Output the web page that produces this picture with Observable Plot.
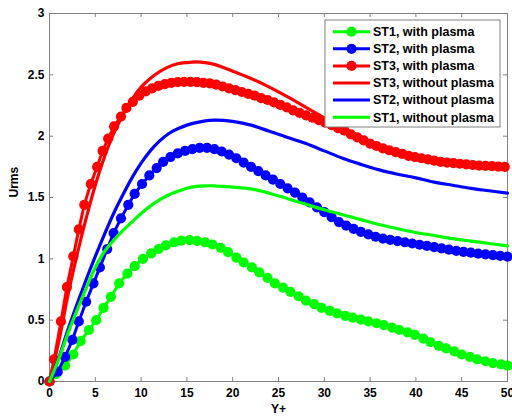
<!DOCTYPE html>
<html><head><meta charset="utf-8">
<script src="https://cdn.jsdelivr.net/npm/d3@7"></script>
<script src="https://cdn.jsdelivr.net/npm/@observablehq/plot@0.6"></script>
<style>body{margin:0;background:#fff}#chart{width:512px;height:419px}</style>
</head><body><div id="chart"></div>
<script>
// ---- data ----
const xTicks = [0,5,10,15,20,25,30,35,40,45,50];
const yTicks = [0,0.5,1,1.5,2,2.5,3];
const xLabel = "Y+";
const yLabel = "Urms";
const seriesNames = ["ST1, with plasma","ST2, with plasma","ST3, with plasma","ST3, without plasma","ST2, without plasma","ST1, without plasma"];
const seriesColors = ["#00ff00","#0000ff","#ff0000","#ff0000","#0000ff","#00ff00"];
const seriesMarkers = [true,true,true,false,false,false];

const st1PlasmaX = [0,0.7,1.7,2.6,3.4,4.3,5.1,5.9,6.7,7.6,8.5,9.3,10.2,11.1,11.9,12.7,13.6,14.4,15.3,16.1,17.0,17.8,18.7,19.5,20.4,21.2,22.1,22.9,23.8,24.6,25.5,26.3,27.2,28.0,28.9,29.7,30.6,31.4,32.3,33.1,34.0,34.8,35.7,36.5,37.4,38.2,39.1,39.9,40.8,41.6,42.5,43.3,44.2,45.0,45.9,46.7,47.6,48.4,49.3,50.0];
const st1PlasmaY = [0,0.06,0.13,0.22,0.33,0.42,0.5,0.6,0.69,0.8,0.88,0.94,1.0,1.045,1.08,1.11,1.135,1.148,1.152,1.147,1.135,1.117,1.09,1.055,1.01,0.97,0.93,0.89,0.845,0.80,0.765,0.73,0.695,0.66,0.63,0.60,0.575,0.555,0.535,0.52,0.505,0.49,0.475,0.46,0.44,0.42,0.40,0.38,0.35,0.32,0.29,0.27,0.245,0.22,0.20,0.18,0.165,0.15,0.14,0.13];

const st2PlasmaX = [0,0.9,1.7,2.5,3.2,4.0,4.8,5.5,6.3,7.0,7.8,8.6,9.3,10.1,10.9,11.7,12.4,13.2,14.0,14.8,15.6,16.4,17.2,18.0,18.8,19.6,20.4,21.2,22.0,22.8,23.6,24.4,25.2,26.0,26.8,27.6,28.4,29.2,30.0,30.8,31.6,32.4,33.2,34.0,34.8,35.6,36.4,37.2,38.0,38.8,39.6,40.4,41.2,42.0,42.8,43.6,44.4,45.2,46.0,46.8,47.6,48.4,49.2,50.0];
const st2PlasmaY = [0,0.08,0.2,0.34,0.49,0.65,0.8,0.93,1.08,1.21,1.33,1.44,1.53,1.61,1.68,1.74,1.79,1.83,1.86,1.88,1.895,1.905,1.905,1.895,1.875,1.85,1.82,1.785,1.75,1.715,1.68,1.645,1.61,1.575,1.54,1.50,1.46,1.42,1.38,1.34,1.30,1.27,1.245,1.22,1.20,1.18,1.165,1.155,1.145,1.135,1.125,1.115,1.105,1.095,1.085,1.075,1.065,1.057,1.05,1.043,1.036,1.03,1.024,1.018];

const st3PlasmaX = [0,0.5,1.25,1.9,2.6,3.2,3.8,4.5,5.2,5.8,6.4,7.05,7.8,8.4,9.1,9.8,10.5,11.2,11.9,12.6,13.3,14.0,14.7,15.4,16.1,16.8,17.5,18.2,18.9,19.6,20.3,21.0,21.7,22.4,23.1,23.8,24.5,25.2,25.9,26.6,27.3,28.0,28.7,29.4,30.1,30.8,31.5,32.2,32.9,33.6,34.3,35.0,35.7,36.4,37.1,37.8,38.5,39.2,39.9,40.6,41.3,42.0,42.7,43.4,44.1,44.8,45.5,46.2,46.9,47.6,48.3,49.0,49.7];
const st3PlasmaY = [0,0.18,0.49,0.77,1.02,1.24,1.44,1.61,1.75,1.88,1.98,2.08,2.16,2.23,2.28,2.33,2.365,2.39,2.41,2.425,2.435,2.44,2.442,2.442,2.44,2.435,2.43,2.42,2.405,2.39,2.375,2.36,2.345,2.33,2.31,2.295,2.275,2.255,2.235,2.21,2.19,2.17,2.15,2.13,2.11,2.09,2.065,2.045,2.015,1.99,1.965,1.94,1.92,1.90,1.885,1.87,1.855,1.84,1.83,1.82,1.81,1.80,1.79,1.785,1.78,1.775,1.77,1.765,1.76,1.757,1.755,1.752,1.75];

const solidX = [0,1,2,3,4,5,6,7,8,9,10,11,12,13,14,15,16,17,18,19,20,22,24,26,28,30,32,34,36,38,40,42,44,46,48,50];
const st3NoPlasmaY = [0,0.32,0.70,1.03,1.33,1.60,1.83,2.02,2.17,2.30,2.40,2.47,2.525,2.565,2.59,2.60,2.605,2.60,2.585,2.56,2.53,2.47,2.40,2.32,2.235,2.15,2.07,1.99,1.925,1.875,1.835,1.805,1.785,1.77,1.76,1.75];
const st2NoPlasmaY = [0,0.19,0.42,0.63,0.83,1.02,1.2,1.37,1.52,1.66,1.78,1.88,1.96,2.02,2.06,2.09,2.11,2.125,2.13,2.128,2.12,2.09,2.04,1.99,1.94,1.88,1.82,1.77,1.725,1.69,1.66,1.625,1.60,1.575,1.555,1.535];
const st1NoPlasmaY = [0,0.18,0.39,0.58,0.76,0.93,1.06,1.15,1.23,1.30,1.37,1.43,1.48,1.52,1.55,1.575,1.59,1.595,1.595,1.59,1.585,1.57,1.535,1.49,1.445,1.40,1.36,1.32,1.28,1.245,1.215,1.19,1.165,1.145,1.125,1.105];

// ---- build ----
const rows = (xs, ys) => xs.map((x, i) => ({x, y: ys[i]}));
const series = [
  rows(st1PlasmaX, st1PlasmaY),
  rows(st2PlasmaX, st2PlasmaY),
  rows(st3PlasmaX, st3PlasmaY),
  rows(solidX, st3NoPlasmaY),
  rows(solidX, st2NoPlasmaY),
  rows(solidX, st1NoPlasmaY)
];

const W = 512, H = 419, ML = 49, MR = 5, MT = 13, MB = 38;
const FW = W - ML - MR, FH = H - MT - MB;
const axisColor = "#808080";
const font = "'Liberation Sans', Arial, sans-serif";
const dotR = 5.1;

const marks = [];
series.forEach((d, i) => {
  const c = seriesColors[i];
  if (seriesMarkers[i]) {
    marks.push(Plot.line(d, {x: "x", y: "y", stroke: c, strokeWidth: 3}));
    marks.push(Plot.dot(d, {x: "x", y: "y", r: dotR, fill: c, stroke: "none"}));
  } else {
    marks.push(Plot.line(d, {x: "x", y: "y", stroke: c, strokeWidth: 3.2, curve: "catmull-rom"}));
  }
});

const chart = Plot.plot({
  width: W, height: H,
  marginLeft: ML, marginRight: MR, marginTop: MT, marginBottom: MB,
  style: {fontFamily: font, fontSize: "12px", fontWeight: "bold", background: "#fff", color: "#000", overflow: "visible"},
  x: {domain: [0, 50]},
  y: {domain: [0, 3]},
  marks: [
    Plot.frame({stroke: axisColor, strokeWidth: 1}),
    Plot.tickX(xTicks, {x: d => d, stroke: axisColor, insetTop: FH - 4}),
    Plot.tickX(xTicks, {x: d => d, stroke: axisColor, insetBottom: FH - 4}),
    Plot.tickY(yTicks, {y: d => d, stroke: axisColor, insetRight: FW - 4}),
    Plot.tickY(yTicks, {y: d => d, stroke: axisColor, insetLeft: FW - 4}),
    Plot.axisX(xTicks, {tickSize: 0, tickPadding: 7, label: null, fill: "#000"}),
    Plot.axisY(yTicks, {tickSize: 0, tickPadding: 5, label: null, fill: "#000", tickFormat: d => String(d)}),
    Plot.text([xLabel], {frameAnchor: "bottom", dy: 31, text: d => d, fill: "#000", fontSize: 12, fontWeight: "bold"}),
    Plot.text([yLabel], {frameAnchor: "left", dx: -35, rotate: -90, text: d => d, fill: "#000", fontSize: 12, fontWeight: "bold"}),
    ...marks
  ]
});

// legend (inside axes, upper right)
const svg = d3.select(chart);
const lx = 325, ly = 20, lw = 175, lh = 107, rowH = 17.1, row0 = 31.7;
const g = svg.append("g").attr("text-anchor", "start");
g.append("rect").attr("x", lx).attr("y", ly).attr("width", lw).attr("height", lh)
  .attr("fill", "#fff").attr("stroke", axisColor).attr("stroke-width", 1);
seriesNames.forEach((name, i) => {
  const yy = row0 + i * rowH;
  const c = seriesColors[i];
  g.append("line").attr("x1", 333).attr("x2", 370).attr("y1", yy).attr("y2", yy)
    .attr("stroke", c).attr("stroke-width", 3);
  if (seriesMarkers[i]) g.append("circle").attr("cx", 351.5).attr("cy", yy).attr("r", dotR).attr("fill", c);
  g.append("text").attr("x", 373).attr("y", yy).attr("dy", "0.35em")
    .attr("text-anchor", "start")
    .attr("font-family", font).attr("font-size", 12.5).attr("font-weight", "bold").attr("fill", "#000")
    .text(name);
});

document.getElementById("chart").appendChild(chart);
</script>
</body></html>
